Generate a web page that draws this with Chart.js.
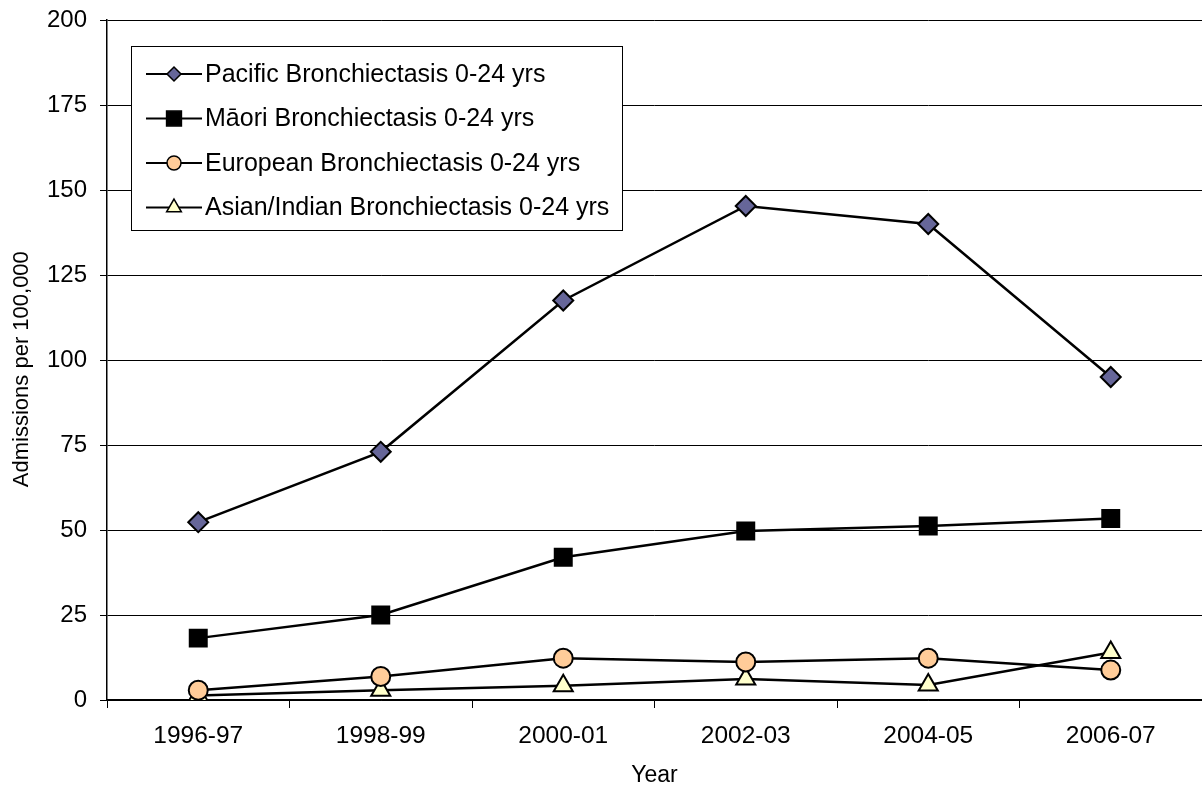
<!DOCTYPE html>
<html>
<head>
<meta charset="utf-8">
<script src="https://cdn.jsdelivr.net/npm/chart.js@4/dist/chart.umd.min.js"></script>
<style>
  html, body { margin: 0; padding: 0; background: #fff; }
  #wrap { width: 1202px; height: 789px; }
</style>
</head>
<body>
<div id="wrap"><canvas id="chart" width="1202" height="789"></canvas></div>
<script>
// ---- data ----
const years = ['1996-97', '1998-99', '2000-01', '2002-03', '2004-05', '2006-07'];
const pacific = [52.3, 73.0, 117.5, 145.3, 140.0, 95.0];
const maori = [18.2, 25.0, 42.0, 49.7, 51.2, 53.4];
const european = [2.9, 6.9, 12.3, 11.2, 12.3, 8.8];
const asian = [1.3, 2.9, 4.2, 6.2, 4.4, 14.0];
const yTicks = [0, 25, 50, 75, 100, 125, 150, 175, 200];

const FONT = 'Arial, "Liberation Sans", sans-serif';

function series(label, data, style, fill, radius, legendRadius) {
    return {
        label, data,
        borderColor: '#000',
        borderWidth: 2.5,
        pointStyle: style,
        pointRadius: radius,
        pointHoverRadius: radius,
        pointBackgroundColor: fill,
        pointBorderColor: '#000',
        pointBorderWidth: 2,
        legendRadius,
        tension: 0,
        fill: false
    };
}

// legend drawn inside the plot, with line + marker like the original
const boxLegend = {
    id: 'boxLegend',
    afterDraw(chart) {
        const ctx = chart.ctx;
        const x0 = 131, y0 = 46, w = 491, h = 184;
        ctx.save();
        ctx.fillStyle = '#fff';
        ctx.fillRect(x0, y0, w, h);
        ctx.strokeStyle = '#000';
        ctx.lineWidth = 1;
        ctx.strokeRect(x0 + 0.5, y0 + 0.5, w, h);
        ctx.font = '25px ' + FONT;
        ctx.textBaseline = 'middle';
        chart.data.datasets.forEach((ds, i) => {
            const cy = y0 + 28 + i * 44.5;
            ctx.strokeStyle = '#000';
            ctx.lineWidth = 2;
            ctx.beginPath();
            ctx.moveTo(146, cy);
            ctx.lineTo(202, cy);
            ctx.stroke();
            ctx.fillStyle = ds.pointBackgroundColor;
            ctx.strokeStyle = '#000';
            ctx.lineWidth = 1.5;
            Chart.helpers.drawPoint(ctx, {
                pointStyle: ds.pointStyle,
                radius: ds.legendRadius,
                borderWidth: 1.5,
                rotation: 0
            }, 174, cy);
            ctx.fillStyle = '#000';
            ctx.fillText(ds.label, 205, cy + 1);
        });
        ctx.restore();
    }
};

new Chart(document.getElementById('chart'), {
    type: 'line',
    data: {
        labels: years,
        datasets: [
            series('Pacific Bronchiectasis 0-24 yrs', pacific, 'rectRot', '#666699', 10, 7),
            series('Māori Bronchiectasis 0-24 yrs', maori, 'rect', '#000', 12, 10.5),
            series('European Bronchiectasis 0-24 yrs', european, 'circle', '#FFCC99', 9.5, 7),
            series('Asian/Indian Bronchiectasis 0-24 yrs', asian, 'triangle', '#FFFFCC', 11, 8.5)
        ]
    },
    options: {
        responsive: false,
        animation: false,
        layout: { autoPadding: false, padding: { left: 0, top: 20, right: 0, bottom: 0 } },
        plugins: { legend: { display: false }, tooltip: { enabled: false } },
        scales: {
            x: {
                offset: true,
                afterFit: s => { s.height = 89; s.paddingLeft = 0; s.paddingRight = 0; },
                grid: { display: true, offset: true, drawOnChartArea: false, color: '#000', tickLength: 8, lineWidth: 1 },
                border: { color: '#000', width: 1.5 },
                ticks: { color: '#000', font: { family: FONT, size: 24.5 }, padding: 14 },
                title: { display: true, text: 'Year', color: '#000', font: { family: FONT, size: 23 }, padding: { top: 0, bottom: 0 } }
            },
            y: {
                min: 0, max: 200,
                afterFit: s => { s.width = 107; s.paddingTop = 0; s.paddingBottom = 0; },
                afterBuildTicks: s => { s.ticks = yTicks.map(v => ({ value: v })); },
                grid: { color: '#000', lineWidth: 1, tickLength: 7 },
                border: { color: '#000', width: 1.5 },
                ticks: { color: '#000', font: { family: FONT, size: 24 }, padding: 13 },
                // trailing spaces nudge the rotated title down a little, as in the original
                title: { display: true, text: 'Admissions per 100,000   ', color: '#000', font: { family: FONT, size: 22 }, padding: { top: 9, bottom: 0 } }
            }
        }
    },
    plugins: [boxLegend]
});
</script>
</body>
</html>
